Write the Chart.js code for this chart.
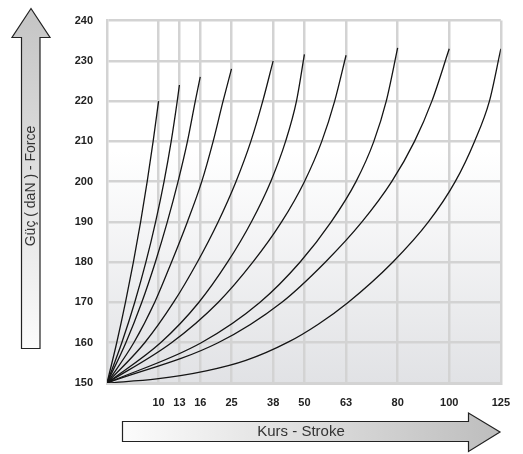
<!DOCTYPE html>
<html>
<head>
<meta charset="utf-8">
<script src="https://cdn.jsdelivr.net/npm/chart.js@4.4.1/dist/chart.umd.min.js"></script>
<style>
  html, body { margin: 0; padding: 0; background: #ffffff; }
  #wrap { position: relative; width: 523px; height: 454px; }
</style>
</head>
<body>
<div id="wrap"><canvas id="c" width="523" height="454"></canvas></div>
<script>
// Stroke tick labels and their positions along the (non-uniform) stroke axis
const strokeLabels = [10, 13, 16, 25, 38, 50, 63, 80, 100, 125];
const strokeAxisPos = [52, 73, 94, 125.5, 167.5, 199, 241, 293, 345, 397];

// Force axis
const forceMin = 150;
const forceMax = 240;
const forceStep = 10;

// Curves: [axis position, force (daN)]
const curve10  = [[0,150],[9.8,160],[18.6,170],[26.6,180],[33.9,190],[40.5,200],[46.5,210],[52,220]];
const curve13  = [[0,150],[14.9,160],[27.9,170],[39.2,180],[49,190],[57.5,200],[64.7,210],[70.8,220],[73,224]];
const curve16  = [[0,150],[19,160],[35,170],[48.7,180],[60.8,190],[71.6,200],[81.1,210],[89,220],[94,226]];
const curve25  = [[0,150],[27,160],[48,170],[65,180],[81,190],[95.5,200],[107,210],[117,220],[125.5,228]];
const curve38  = [[0,150],[38,160],[67,170],[91,180],[112,190],[130,200],[145,210],[157,220],[167.5,230]];
const curve50  = [[0,150],[54,160],[92.5,170],[121.5,180],[145.5,190],[165,200],[180,210],[191,220],[199,231.6]];
const curve63  = [[0,150],[65,160],[112,170],[147,180],[176,190],[199,200],[216.5,210],[229.5,220],[241,231.4]];
const curve80  = [[0,150],[95,160],[154,170],[194.5,180],[226,190],[251,200],[269,210],[281.5,220],[293,233.2]];
const curve100 = [[0,150],[112,160],[176,170],[220,180],[257,190],[287,200],[310,210],[327.5,220],[345,233]];
const curve125 = [[0,150],[50,151],[100,153],[140,155.6],[183,160.2],[213,164.6],[243,170],[288,180],[324,190],[351,200],[370.5,210],[385.5,220],[397,233]];

const curves = [curve10, curve13, curve16, curve25, curve38, curve50, curve63, curve80, curve100, curve125];

const gridColor = '#d3d3d3';

const bgPlugin = {
  id: 'bg',
  beforeDraw(chart) {
    const {ctx, chartArea: a} = chart;
    const g = ctx.createLinearGradient(0, a.top, 0, a.bottom);
    g.addColorStop(0, '#ffffff');
    g.addColorStop(0.36, '#ffffff');
    g.addColorStop(1, '#e1e2e5');
    ctx.save();
    ctx.fillStyle = g;
    ctx.fillRect(a.left, a.top, a.right - a.left, a.bottom - a.top);
    ctx.restore();
  }
};

const arrowPlugin = {
  id: 'arrows',
  afterDraw(chart) {
    const ctx = chart.ctx;
    ctx.save();
    // vertical arrow (Force)
    let g = ctx.createLinearGradient(0, 8, 0, 348);
    g.addColorStop(0, '#c4c4c4');
    g.addColorStop(1, '#fbfbfb');
    ctx.beginPath();
    ctx.moveTo(31, 8.5);
    ctx.lineTo(50, 37.5);
    ctx.lineTo(40, 37.5);
    ctx.lineTo(40, 348.5);
    ctx.lineTo(21.5, 348.5);
    ctx.lineTo(21.5, 37.5);
    ctx.lineTo(12, 37.5);
    ctx.closePath();
    ctx.fillStyle = g;
    ctx.fill();
    ctx.lineWidth = 1.2;
    ctx.strokeStyle = '#222';
    ctx.stroke();

    ctx.save();
    ctx.translate(31.5, 186);
    ctx.rotate(-Math.PI / 2);
    ctx.fillStyle = '#333';
    ctx.font = '14px "Liberation Sans", Arial, sans-serif';
    ctx.textAlign = 'center';
    ctx.textBaseline = 'middle';
    ctx.fillText('Güç ( daN ) - Force', 0, 0);
    ctx.restore();

    // horizontal arrow (Stroke)
    g = ctx.createLinearGradient(122, 0, 500, 0);
    g.addColorStop(0, '#fcfcfc');
    g.addColorStop(1, '#bdbdbd');
    ctx.beginPath();
    ctx.moveTo(122.5, 421.5);
    ctx.lineTo(468.5, 421.5);
    ctx.lineTo(468.5, 413);
    ctx.lineTo(500, 432);
    ctx.lineTo(468.5, 451.5);
    ctx.lineTo(468.5, 441.5);
    ctx.lineTo(122.5, 441.5);
    ctx.closePath();
    ctx.fillStyle = g;
    ctx.fill();
    ctx.stroke();

    ctx.fillStyle = '#333';
    ctx.font = '15px "Liberation Sans", Arial, sans-serif';
    ctx.textAlign = 'center';
    ctx.textBaseline = 'middle';
    ctx.fillText('Kurs - Stroke', 301, 432);
    ctx.restore();
  }
};

new Chart(document.getElementById('c'), {
  type: 'line',
  data: {
    datasets: curves.map((c, i) => ({
      label: String(strokeLabels[i]),
      data: c.map(p => ({x: p[0], y: p[1]})),
      borderColor: '#151515',
      borderWidth: 1.3,
      pointRadius: 0,
      fill: false,
      cubicInterpolationMode: 'monotone'
    }))
  },
  options: {
    responsive: false,
    animation: false,
    devicePixelRatio: 1,
    layout: { padding: { left: 0, right: 19, top: 8, bottom: 0 } },
    plugins: { legend: { display: false }, tooltip: { enabled: false } },
    scales: {
      x: {
        type: 'linear',
        min: 0,
        max: strokeAxisPos[strokeAxisPos.length - 1],
        afterBuildTicks(axis) {
          axis.ticks = strokeAxisPos.map(v => ({ value: v }));
        },
        afterFit(axis) { axis.height = 71; },
        ticks: {
          autoSkip: false,
          maxRotation: 0,
          padding: 13,
          color: '#222',
          font: { family: '"Liberation Sans", Arial, sans-serif', size: 11, weight: 'bold' },
          callback(value) {
            const i = strokeAxisPos.indexOf(value);
            return i >= 0 ? String(strokeLabels[i]) : '';
          }
        },
        grid: { color: gridColor, lineWidth: 2.5, drawTicks: false },
        border: { display: true, color: gridColor, width: 3 }
      },
      y: {
        type: 'linear',
        min: forceMin,
        max: forceMax,
        afterFit(axis) { axis.width = 107; },
        ticks: {
          stepSize: forceStep,
          padding: 14,
          color: '#222',
          font: { family: '"Liberation Sans", Arial, sans-serif', size: 11, weight: 'bold' }
        },
        grid: { color: gridColor, lineWidth: 2.5, drawTicks: false },
        border: { display: true, color: gridColor, width: 2.5 }
      }
    }
  },
  plugins: [bgPlugin, arrowPlugin]
});
</script>
</body>
</html>
